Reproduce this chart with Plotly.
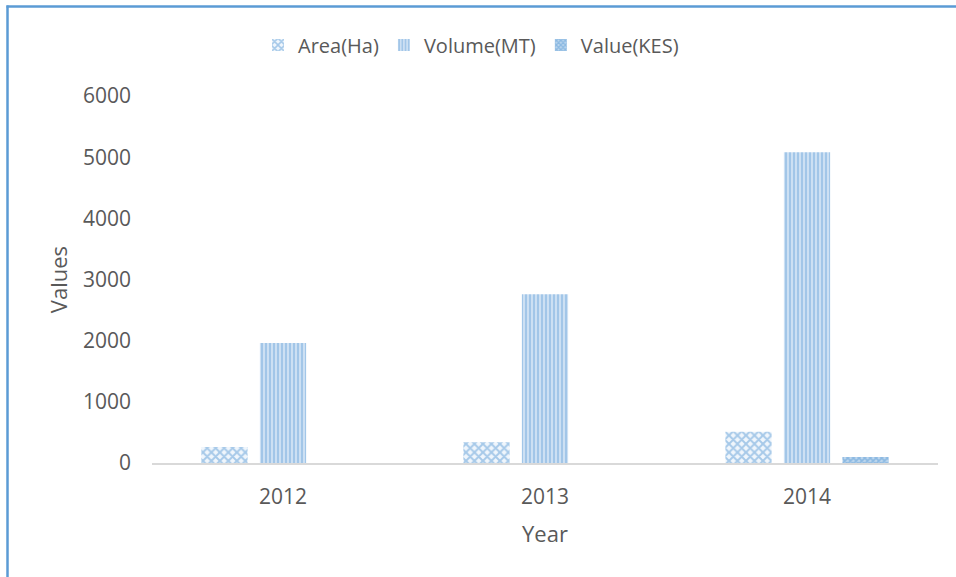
import plotly.graph_objects as go

years = ["2012", "2013", "2014"]
area_ha = [260, 340, 510]
volume_mt = [1960, 2760, 5080]
value_kes = [0, 0, 100]
y_ticks = [0, 1000, 2000, 3000, 4000, 5000, 6000]

blue = "#5B9BD5"
grey = "#595959"

fig = go.Figure()
fig.add_trace(go.Bar(
    x=years, y=area_ha, name="Area(Ha)",
    marker=dict(color="white", line=dict(width=0),
                pattern=dict(shape="x", fgcolor=blue, bgcolor="#F0F6FC", size=6, solidity=0.55, fillmode="overlay")),
))
fig.add_trace(go.Bar(
    x=years, y=volume_mt, name="Volume(MT)",
    marker=dict(color="white", line=dict(width=0),
                pattern=dict(shape="|", fgcolor=blue, bgcolor="#E8F1FA", size=4, solidity=0.7, fillmode="overlay")),
))
fig.add_trace(go.Bar(
    x=years, y=value_kes, name="Value(KES)",
    marker=dict(color="white", line=dict(width=0),
                pattern=dict(shape="x", fgcolor=blue, bgcolor="#BDD7EE", size=4, solidity=0.65, fillmode="overlay")),
))

L, R, T, B = 152, 18, 96, 114
W, H = 956, 577
pw, ph = W - L - R, H - T - B

def px_x(p):
    return (p - L) / pw

def px_y(p):
    return (H - B - p) / ph

fig.update_layout(
    width=W, height=H,
    margin=dict(l=L, r=R, t=T, b=B),
    paper_bgcolor="white", plot_bgcolor="white",
    font=dict(family="Open Sans, Liberation Sans, sans-serif", color=grey, size=21),
    barmode="group", bargap=0.33, bargroupgap=0.21,
    showlegend=True,
    legend=dict(orientation="h", x=px_x(258), xanchor="left", y=px_y(45), yanchor="middle",
                bgcolor="rgba(0,0,0,0)", font=dict(size=20, color=grey), traceorder="normal"),
    xaxis=dict(showline=True, linecolor="#D9D9D9", linewidth=1.5, showgrid=False,
               ticks="", ticklabelstandoff=14, tickfont=dict(size=21, color=grey),
               title=dict(text="Year", font=dict(size=22, color=grey), standoff=18)),
    yaxis=dict(range=[0, 6000], tickvals=y_ticks, showgrid=False, zeroline=False,
               showline=False, ticks="", ticklabelstandoff=20,
               tickfont=dict(size=21, color=grey),
               title=dict(text="Values", font=dict(size=22, color=grey), standoff=9)),
    shapes=[
        dict(type="line", xref="paper", yref="paper", x0=px_x(7.5), x1=px_x(7.5),
             y0=px_y(590), y1=px_y(5.5), line=dict(color=blue, width=2.5), layer="above"),
        dict(type="line", xref="paper", yref="paper", x0=px_x(6.5), x1=px_x(975),
             y0=px_y(6.5), y1=px_y(6.5), line=dict(color=blue, width=2.5), layer="above"),
    ],
)

fig.write_html("out.html", config={"displayModeBar": False},
               post_script="document.body.style.margin='0';document.body.style.overflow='hidden';")
